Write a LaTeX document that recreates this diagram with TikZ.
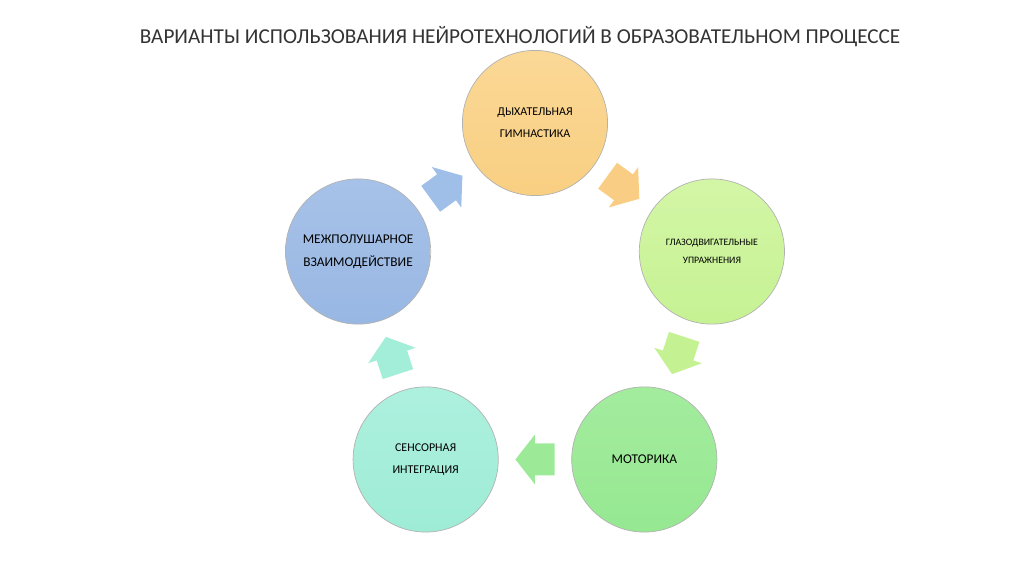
\documentclass[tikz,border=0pt]{standalone}
\usepackage{fontspec}
\setmainfont{Carlito}
\usepackage{tikz}
\usetikzlibrary{calc}

\definecolor{orangeTop}{HTML}{FAD896}
\definecolor{orangeBot}{HTML}{F9CF82}
\definecolor{limeTop}{HTML}{D3F6A6}
\definecolor{limeBot}{HTML}{C6F293}
\definecolor{greenTop}{HTML}{A3EC9E}
\definecolor{greenBot}{HTML}{96E891}
\definecolor{tealTop}{HTML}{ADF0DE}
\definecolor{tealBot}{HTML}{9EECD6}
\definecolor{blueTop}{HTML}{A7C2E8}
\definecolor{blueBot}{HTML}{98B7E3}
\definecolor{orangeArr}{HTML}{FACD85}
\definecolor{limeArr}{HTML}{C4F293}
\definecolor{greenArr}{HTML}{9CEA98}
\definecolor{tealArr}{HTML}{A3EED9}
\definecolor{blueArr}{HTML}{9FBEE8}

\tikzset{
    stage/.style={circle, minimum size=3.63cm, inner sep=0pt, align=center,
        draw=black!30, line width=0.5pt, text=black,
        font=\fontsize{8.5}{15.5}\selectfont},
}

% block arrow: position, angle, colour
\newcommand{\cyclearrow}[3]{%
    \fill[#3, shift={(#1)}, rotate=#2]
        (-0.49,-0.4) -- (0,-0.4) -- (0,-0.625) -- (0.49,0)
        -- (0,0.625) -- (0,0.4) -- (-0.49,0.4) -- cycle;}

\begin{document}
\begin{tikzpicture}
        \useasboundingbox (-13.375,-6.625) rectangle (12.225,7.725);

        % Title
        \node[font=\fontsize{15.1}{18}\selectfont, text=black!80] (title) at (-0.375,6.8)
            {ВАРИАНТЫ ИСПОЛЬЗОВАНИЯ НЕЙРОТЕХНОЛОГИЙ В ОБРАЗОВАТЕЛЬНОМ ПРОЦЕССЕ};

        % Circles of the cycle
        \node[stage, top color=orangeTop, bottom color=orangeBot] (breath) at (90:4.65)
            {ДЫХАТЕЛЬНАЯ\\ГИМНАСТИКА};
        \node[stage, top color=limeTop, bottom color=limeBot,
            font=\fontsize{7}{13}\selectfont] (eyes) at (18:4.65)
            {ГЛАЗОДВИГАТЕЛЬНЫЕ\\УПРАЖНЕНИЯ};
        \node[stage, top color=greenTop, bottom color=greenBot,
            font=\fontsize{9.5}{15.5}\selectfont] (motor) at (-54:4.65)
            {МОТОРИКА};
        \node[stage, top color=tealTop, bottom color=tealBot] (sensory) at (-126:4.65)
            {СЕНСОРНАЯ\\ИНТЕГРАЦИЯ};
        \node[stage, top color=blueTop, bottom color=blueBot,
            font=\fontsize{9.5}{16.5}\selectfont] (brain) at (162:4.65)
            {МЕЖПОЛУШАРНОЕ\\ВЗАИМОДЕЙСТВИЕ};

        % Arrow positions
        \coordinate (m1) at ($(breath)!0.5!(eyes)$);
        \coordinate (m2) at ($(eyes)!0.5!(motor)$);
        \coordinate (m3) at ($(motor)!0.5!(sensory)$);
        \coordinate (m4) at ($(sensory)!0.5!(brain)$);
        \coordinate (m5) at ($(brain)!0.5!(breath)$);

        % Arrows
        \cyclearrow{m1}{-36}{orangeArr}
        \cyclearrow{m2}{-108}{limeArr}
        \cyclearrow{m3}{180}{greenArr}
        \cyclearrow{m4}{108}{tealArr}
        \cyclearrow{m5}{36}{blueArr}
    \end{tikzpicture}
\end{document}
